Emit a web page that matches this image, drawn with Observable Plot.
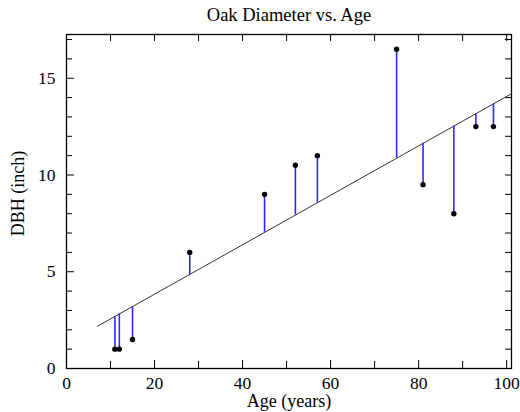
<!DOCTYPE html>
<html>
<head>
<meta charset="utf-8">
<script src="https://cdn.jsdelivr.net/npm/d3@7"></script>
<script src="https://cdn.jsdelivr.net/npm/@observablehq/plot@0.6"></script>
<style>
  html, body { margin: 0; padding: 0; background: #fff; }
  svg { display: block; }
</style>
</head>
<body>
<div id="chart"></div>
<script>
// Data
const age = [11, 12, 15, 28, 45, 52, 57, 75, 81, 88, 93, 97];
const dbh = [1, 1, 1.5, 6, 9, 10.5, 11, 16.5, 9.5, 8, 12.5, 12.5];
// fitted values at each age
const fitted = [2.69, 2.82, 3.20, 4.86, 7.04, 7.93, 8.57, 10.87, 11.64, 12.53, 13.17, 13.68];
// regression line end points
const lineAge = [7, 101.1];
const lineDBH = [2.18, 14.2];

const xMajor = [0, 20, 40, 60, 80, 100];
const xMinor = [10, 30, 50, 70, 90];
const xTop = [10, 20, 30, 40, 50, 60, 70, 80, 90, 100];
const yMajor = [0, 5, 10, 15];
const yMinor = [1, 2, 3, 4, 6, 7, 8, 9, 11, 12, 13, 14, 16, 17];
const yRight = [1, 2, 3, 4, 5, 6, 7, 8, 9, 10, 11, 12, 13, 14, 15, 16, 17];

const pts = age.map((a, i) => ({age: a, dbh: dbh[i], fit: fitted[i]}));
const fitLine = lineAge.map((a, i) => ({age: a, dbh: lineDBH[i]}));

const W = 520, H = 412;
const mL = 66, mR = 9, mT = 34, mB = 44;
const pw = W - mL - mR, ph = H - mT - mB;
const font = "Liberation Serif, Times New Roman, serif";

const chart = Plot.plot({
  width: W,
  height: H,
  marginLeft: mL,
  marginRight: mR,
  marginTop: mT,
  marginBottom: mB,
  style: {fontFamily: font, fontSize: "17.5px", color: "#000", background: "#fff"},
  x: {domain: [0, 101.1], axis: null},
  y: {domain: [0, 17.26], axis: null},
  marks: [
    // tick labels
    Plot.text(xMajor, {x: d => d, frameAnchor: "bottom", dy: 15, lineAnchor: "middle", textAnchor: "middle", text: d => String(d), fontSize: 17.5, fill: "#000"}),
    Plot.text(yMajor, {y: d => d, frameAnchor: "left", dx: -11, lineAnchor: "middle", textAnchor: "end", text: d => String(d), fontSize: 17.5, fill: "#000"}),
    // inward ticks
    Plot.tickX(xMajor, {x: d => d, insetTop: ph - 8, stroke: "#000"}),
    Plot.tickX(xMinor, {x: d => d, insetTop: ph - 7, stroke: "#000"}),
    Plot.tickX(xTop, {x: d => d, insetBottom: ph - 7, stroke: "#000"}),
    Plot.tickY(yMajor, {y: d => d, insetRight: pw - 8, stroke: "#000"}),
    Plot.tickY(yMinor, {y: d => d, insetRight: pw - 6, stroke: "#000"}),
    Plot.tickY(yRight, {y: d => d, insetLeft: pw - 6, stroke: "#000"}),
    Plot.frame({stroke: "#000", strokeWidth: 1.3}),
    // regression line
    Plot.line(fitLine, {x: "age", y: "dbh", stroke: "#333", strokeWidth: 1}),
    // residuals
    Plot.ruleX(pts, {x: "age", y1: "fit", y2: "dbh", stroke: "#2a2aff", strokeWidth: 1.6}),
    Plot.dot(pts, {x: "age", y: "dbh", r: 2.7, fill: "#000", stroke: "none"}),
    // labels
    Plot.text(["Oak Diameter vs. Age"], {frameAnchor: "top", dy: -19, lineAnchor: "middle", textAnchor: "middle", fontSize: 18.5, fill: "#000"}),
    Plot.text(["Age (years)"], {frameAnchor: "bottom", dy: 33, lineAnchor: "middle", textAnchor: "middle", fontSize: 18, fill: "#000"}),
    Plot.text(["DBH (inch)"], {frameAnchor: "left", dx: -48, dy: -8, rotate: -90, lineAnchor: "middle", textAnchor: "middle", fontSize: 18, fill: "#000"})
  ]
});
document.getElementById("chart").appendChild(chart);
</script>
</body>
</html>
